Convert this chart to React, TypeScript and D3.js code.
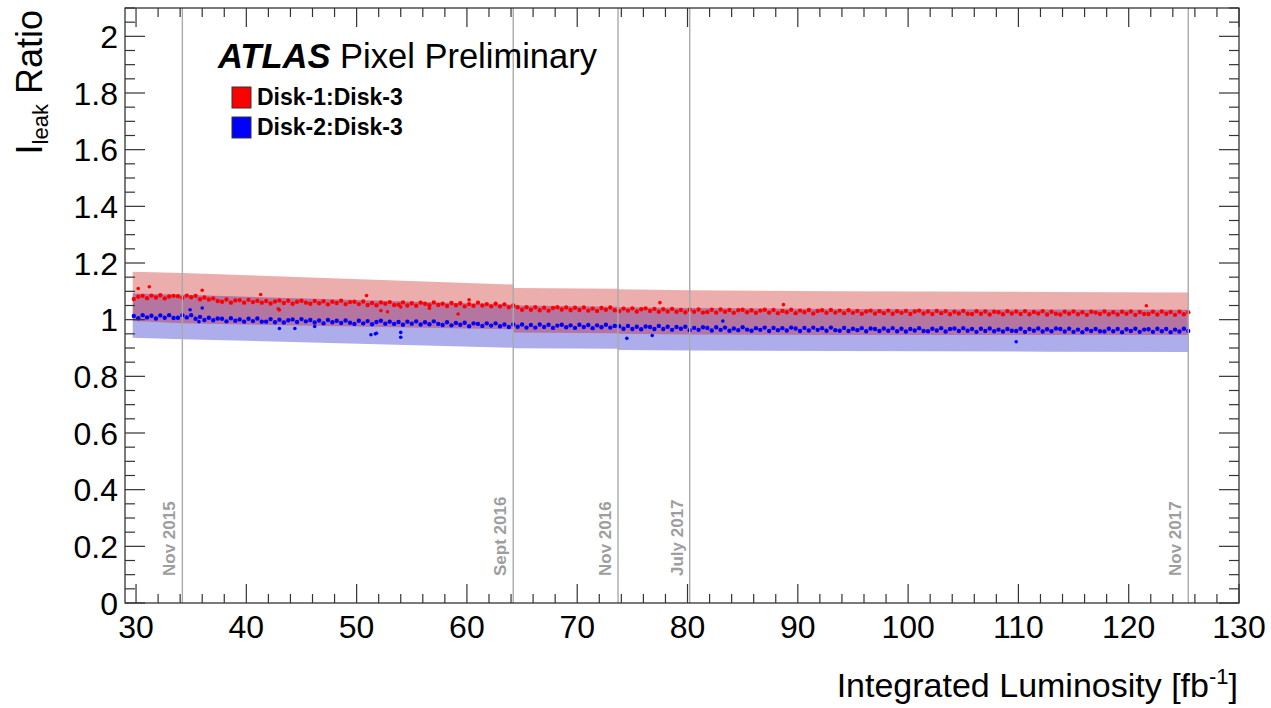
import React, { useEffect } from 'react';
import * as d3 from 'd3';

// Integrated luminosity [fb^-1] of each measurement
const lumi = [
  29.8,30.2,30.6,31.0,31.4,31.8,32.2,32.6,33.0,33.4,
  33.8,34.2,34.6,35.0,35.4,35.8,36.2,36.6,37.0,37.4,
  37.8,38.2,38.6,39.0,39.4,39.8,40.2,40.6,41.0,41.4,
  41.8,42.2,42.6,43.0,43.4,43.8,44.2,44.6,45.0,45.4,
  45.8,46.2,46.6,47.0,47.4,47.8,48.2,48.6,49.0,49.4,
  49.8,50.2,50.6,51.0,51.4,51.8,52.2,52.6,53.0,53.4,
  53.8,54.2,54.6,55.0,55.4,55.8,56.2,56.6,57.0,57.4,
  57.8,58.2,58.6,59.0,59.4,59.8,60.2,60.6,61.0,61.4,
  61.8,62.2,62.6,63.0,63.4,63.8,64.2,64.6,65.0,65.4,
  65.8,66.2,66.6,67.0,67.4,67.8,68.2,68.6,69.0,69.4,
  69.8,70.2,70.6,71.0,71.4,71.8,72.2,72.6,73.0,73.4,
  73.8,74.2,74.6,75.0,75.4,75.8,76.2,76.6,77.0,77.4,
  77.8,78.2,78.6,79.0,79.4,79.8,80.2,80.6,81.0,81.4,
  81.8,82.2,82.6,83.0,83.4,83.8,84.2,84.6,85.0,85.4,
  85.8,86.2,86.6,87.0,87.4,87.8,88.2,88.6,89.0,89.4,
  89.8,90.2,90.6,91.0,91.4,91.8,92.2,92.6,93.0,93.4,
  93.8,94.2,94.6,95.0,95.4,95.8,96.2,96.6,97.0,97.4,
  97.8,98.2,98.6,99.0,99.4,99.8,100.2,100.6,101.0,101.4,
  101.8,102.2,102.6,103.0,103.4,103.8,104.2,104.6,105.0,105.4,
  105.8,106.2,106.6,107.0,107.4,107.8,108.2,108.6,109.0,109.4,
  109.8,110.2,110.6,111.0,111.4,111.8,112.2,112.6,113.0,113.4,
  113.8,114.2,114.6,115.0,115.4,115.8,116.2,116.6,117.0,117.4,
  117.8,118.2,118.6,119.0,119.4,119.8,120.2,120.6,121.0,121.4,
  121.8,122.2,122.6,123.0,123.4,123.8,124.2,124.6,125.0,125.4,
];

// Disk-1 : Disk-3 leakage current ratio
const disk13 = [
  1.073,1.081,1.084,1.076,1.085,1.078,1.086,1.075,1.082,1.084,
  1.083,1.077,1.085,1.079,1.084,1.072,1.078,1.071,1.075,1.066,
  1.063,1.071,1.060,1.068,1.069,1.060,1.070,1.062,1.067,1.060,
  1.066,1.057,1.064,1.068,1.059,1.067,1.056,1.063,1.067,1.060,
  1.056,1.066,1.058,1.065,1.054,1.063,1.059,1.067,1.055,1.062,
  1.063,1.055,1.064,1.052,1.059,1.051,1.061,1.056,1.062,1.052,
  1.053,1.061,1.050,1.058,1.049,1.060,1.056,1.051,1.061,1.052,
  1.056,1.048,1.059,1.051,1.058,1.047,1.055,1.049,1.060,1.050,
  1.055,1.047,1.056,1.047,1.054,1.044,1.050,1.044,1.035,1.044,
  1.035,1.044,1.033,1.042,1.032,1.041,1.044,1.036,1.043,1.034,
  1.042,1.034,1.043,1.032,1.039,1.031,1.041,1.035,1.043,1.033,
  1.030,1.039,1.032,1.040,1.029,1.037,1.040,1.031,1.038,1.028,
  1.037,1.029,1.038,1.028,1.034,1.026,1.035,1.028,1.036,1.025,
  1.027,1.035,1.025,1.036,1.028,1.034,1.024,1.033,1.035,1.026,
  1.033,1.024,1.032,1.035,1.025,1.034,1.023,1.031,1.026,1.035,
  1.023,1.032,1.026,1.034,1.022,1.031,1.033,1.024,1.034,1.025,
  1.032,1.023,1.033,1.024,1.031,1.021,1.029,1.032,1.022,1.030,
  1.023,1.032,1.021,1.030,1.024,1.031,1.020,1.029,1.032,1.022,
  1.029,1.020,1.031,1.023,1.030,1.019,1.028,1.022,1.031,1.021,
  1.020,1.030,1.021,1.029,1.018,1.028,1.026,1.019,1.030,1.022,
  1.029,1.020,1.030,1.019,1.027,1.022,1.030,1.018,1.028,1.021,
  1.018,1.028,1.021,1.029,1.019,1.026,1.017,1.028,1.025,1.020,
  1.029,1.019,1.026,1.018,1.028,1.021,1.029,1.017,1.027,1.020,
  1.020,1.028,1.018,1.029,1.021,1.027,1.017,1.028,1.019,1.026,
];

// Disk-2 : Disk-3 leakage current ratio
const disk23 = [
  1.013,1.005,1.016,1.008,1.014,1.004,1.015,1.007,1.016,1.006,
  1.007,1.016,1.008,1.016,1.003,1.010,0.999,1.007,0.998,1.004,
  1.003,0.994,1.005,0.996,1.001,0.993,1.003,0.995,1.004,0.993,
  0.993,1.002,0.991,1.000,0.990,0.998,1.001,0.992,1.002,0.994,
  0.999,0.990,0.997,0.987,0.999,0.991,0.996,0.988,0.997,0.989,
  0.985,0.996,0.987,0.995,0.984,0.992,0.996,0.986,0.993,0.985,
  0.992,0.982,0.993,0.986,0.994,0.983,0.991,0.984,0.994,0.985,
  0.981,0.991,0.980,0.988,0.982,0.989,0.977,0.987,0.985,0.978,
  0.987,0.979,0.987,0.977,0.983,0.974,0.983,0.975,0.983,0.972,
  0.981,0.972,0.983,0.974,0.982,0.971,0.979,0.982,0.973,0.980,
  0.971,0.982,0.974,0.981,0.970,0.980,0.973,0.982,0.972,0.978,
  0.977,0.968,0.978,0.967,0.975,0.966,0.976,0.974,0.967,0.978,
  0.967,0.975,0.964,0.974,0.968,0.975,0.963,0.971,0.964,0.973,
  0.971,0.962,0.973,0.964,0.972,0.961,0.969,0.963,0.973,0.965,
  0.961,0.970,0.964,0.972,0.960,0.971,0.963,0.970,0.962,0.972,
  0.969,0.960,0.971,0.962,0.972,0.964,0.970,0.961,0.972,0.963,
  0.961,0.971,0.960,0.968,0.963,0.970,0.959,0.969,0.967,0.960,
  0.969,0.961,0.970,0.959,0.968,0.958,0.967,0.962,0.970,0.960,
  0.959,0.968,0.962,0.970,0.958,0.967,0.969,0.960,0.970,0.961,
  0.967,0.957,0.968,0.960,0.969,0.959,0.965,0.958,0.967,0.961,
  0.960,0.968,0.957,0.967,0.961,0.969,0.958,0.966,0.959,0.969,
  0.967,0.958,0.968,0.957,0.965,0.956,0.966,0.960,0.967,0.959,
  0.958,0.968,0.959,0.967,0.956,0.966,0.960,0.968,0.957,0.965,
  0.966,0.957,0.968,0.959,0.967,0.956,0.965,0.958,0.968,0.960,
];

// isolated measurements away from the main trend
const disk13OutLumi = [30.2, 31.2, 36.0, 41.3, 42.9, 43.0, 50.9, 52.2, 52.8, 54.0, 56.6, 59.2, 60.2, 77.5, 88.7, 121.6];
const disk13OutVal = [1.110, 1.116, 1.104, 1.089, 1.038, 1.034, 1.085, 1.032, 1.028, 1.045, 1.040, 1.020, 1.070, 1.060, 1.053, 1.049];
const disk23OutLumi = [34.9, 36.0, 35.7, 43.0, 44.4, 46.2, 51.3, 51.7, 51.8, 54.0, 54.0, 74.5, 76.8, 83.2, 109.8];
const disk23OutVal = [1.035, 1.041, 0.993, 0.969, 0.969, 0.976, 0.947, 0.950, 0.952, 0.938, 0.955, 0.934, 0.944, 0.995, 0.922];

// uncertainty bands (prediction)
const bandLumi = [29.7, 34.2, 64.2, 64.2, 73.7, 73.7, 80.2, 93.5, 112.6, 125.4];
const band13Hi = [1.169, 1.165, 1.124, 1.112, 1.109, 1.107, 1.104, 1.100, 1.098, 1.096];
const band13Lo = [0.995, 0.987, 0.966, 0.955, 0.952, 0.950, 0.948, 0.946, 0.946, 0.946];
const band23Hi = [1.092, 1.088, 1.053, 1.050, 1.046, 1.044, 1.041, 1.038, 1.036, 1.035];
const band23Lo = [0.936, 0.931, 0.901, 0.899, 0.897, 0.893, 0.891, 0.889, 0.887, 0.886];

// annotated dates
const eraLabels = ['Nov 2015', 'Sept 2016', 'Nov 2016', 'July 2017', 'Nov 2017'];
const eraLumi = [34.2, 64.2, 73.7, 80.2, 125.4];

const xTickLabels = [30, 40, 50, 60, 70, 80, 90, 100, 110, 120, 130];
const yTickLabels = ['0', '0.2', '0.4', '0.6', '0.8', '1', '1.2', '1.4', '1.6', '1.8', '2'];

const legendLabels = ['Disk-1:Disk-3', 'Disk-2:Disk-3'];
const legendColors = ['#ff0000', '#0000ff'];

const FONT = "'Liberation Sans', Arial, Helvetica, sans-serif";

export default function App() {
  useEffect(() => {
    document.body.style.margin = '0';
  }, []);

  const W = 1271, H = 708;
  const L = 125, R = 1239, T = 8, B = 603;
  const x = d3.scaleLinear().domain([29, 130]).range([L, R]);
  const y = d3.scaleLinear().domain([0, 2.1]).range([B, T]);

  const mkArea = (hi: number[], lo: number[]) =>
    d3.area<number>()
      .x((_, i) => x(bandLumi[i]))
      .y0((_, i) => y(lo[i]))
      .y1((d) => y(d))(hi) || '';

  const xMinor = d3.range(30, 130.01, 2);
  const yMinor = d3.range(0, 2.1001, 0.05);
  const isMajorX = (v: number) => Math.abs(v % 10) < 1e-6;
  const isMajorY = (v: number) => Math.abs(Math.round(v * 5) - v * 5) < 1e-6;

  const tickColor = '#333';
  const DOT = 2.2;

  return (
    <svg width={W} height={H} style={{ position: 'absolute', left: 0, top: 0, background: '#fff' }} fontFamily={FONT}>
      <rect x={0} y={0} width={W} height={H} fill="#fff" />
      {/* bands */}
      <path d={mkArea(band23Hi, band23Lo)} fill="rgb(0,0,195)" fillOpacity={0.32} />
      <path d={mkArea(band13Hi, band13Lo)} fill="rgb(195,0,0)" fillOpacity={0.32} />

      {/* points */}
      <g fill="#0000ff">
        {disk23.map((v, i) => (
          <circle key={'b' + i} cx={x(lumi[i])} cy={y(v)} r={DOT} />
        ))}
        {disk23OutVal.map((v, i) => (
          <circle key={'bo' + i} cx={x(disk23OutLumi[i])} cy={y(v)} r={1.8} />
        ))}
      </g>
      <g fill="#ff0000">
        {disk13.map((v, i) => (
          <circle key={'r' + i} cx={x(lumi[i])} cy={y(v)} r={DOT} />
        ))}
        {disk13OutVal.map((v, i) => (
          <circle key={'ro' + i} cx={x(disk13OutLumi[i])} cy={y(v)} r={1.8} />
        ))}
      </g>

      {/* era lines */}
      {eraLumi.map((v, i) => (
        <g key={'era' + i}>
          <line x1={x(v)} x2={x(v)} y1={T} y2={B} stroke="#aaa" strokeWidth={1.4} />
          <text
            transform={`translate(${x(v) - 7},576) rotate(-90)`}
            fontSize={17}
            fontWeight="bold"
            fill="#9e9e9e"
          >
            {eraLabels[i]}
          </text>
        </g>
      ))}

      {/* frame */}
      <rect x={L} y={T} width={R - L} height={B - T} fill="none" stroke="#222" strokeWidth={1.2} />

      {/* x ticks */}
      {xMinor.map((v) => {
        const len = isMajorX(v) ? 19 : 9;
        return (
          <g key={'xt' + v} stroke={tickColor} strokeWidth={1.2}>
            <line x1={x(v)} x2={x(v)} y1={B} y2={B - len} />
            <line x1={x(v)} x2={x(v)} y1={T} y2={T + len} />
          </g>
        );
      })}
      {/* y ticks */}
      {yMinor.map((v) => {
        const len = isMajorY(v) ? 20 : 10;
        return (
          <g key={'yt' + v.toFixed(2)} stroke={tickColor} strokeWidth={1.2}>
            <line x1={L} x2={L + len} y1={y(v)} y2={y(v)} />
            <line x1={R} x2={R - len} y1={y(v)} y2={y(v)} />
          </g>
        );
      })}

      {/* x tick labels */}
      {xTickLabels.map((v) => (
        <text key={'xl' + v} x={x(v)} y={638} fontSize={32} textAnchor="middle" fill="#000">
          {v}
        </text>
      ))}
      {/* y tick labels */}
      {yTickLabels.map((s) => (
        <text key={'yl' + s} x={118} y={y(parseFloat(s)) + 11.5} fontSize={32} textAnchor="end" fill="#000">
          {s}
        </text>
      ))}

      {/* axis titles */}
      <text x={1238} y={697} fontSize={34} textAnchor="end" fill="#000">
        Integrated Luminosity [fb
        <tspan fontSize={22} dy={-13}>-1</tspan>
        <tspan dy={13}>]</tspan>
      </text>
      <text transform="translate(42,10) rotate(-90)" fontSize={36} textAnchor="end" fill="#000">
        I
        <tspan fontSize={22} dy={6}>leak</tspan>
        <tspan dy={-6}> Ratio</tspan>
      </text>

      {/* ATLAS label */}
      <text x={218} y={68} fontSize={34.5} fill="#000">
        <tspan fontWeight="bold" fontStyle="italic">ATLAS</tspan>
        <tspan> Pixel Preliminary</tspan>
      </text>

      {/* legend */}
      {legendLabels.map((s, i) => (
        <g key={'lg' + i}>
          <rect x={232} y={87 + i * 30} width={19} height={21} fill={legendColors[i]} stroke="#333" strokeWidth={1} />
          <text x={257} y={105 + i * 30} fontSize={23} fontWeight="bold" fill="#000">
            {s}
          </text>
        </g>
      ))}
    </svg>
  );
}
